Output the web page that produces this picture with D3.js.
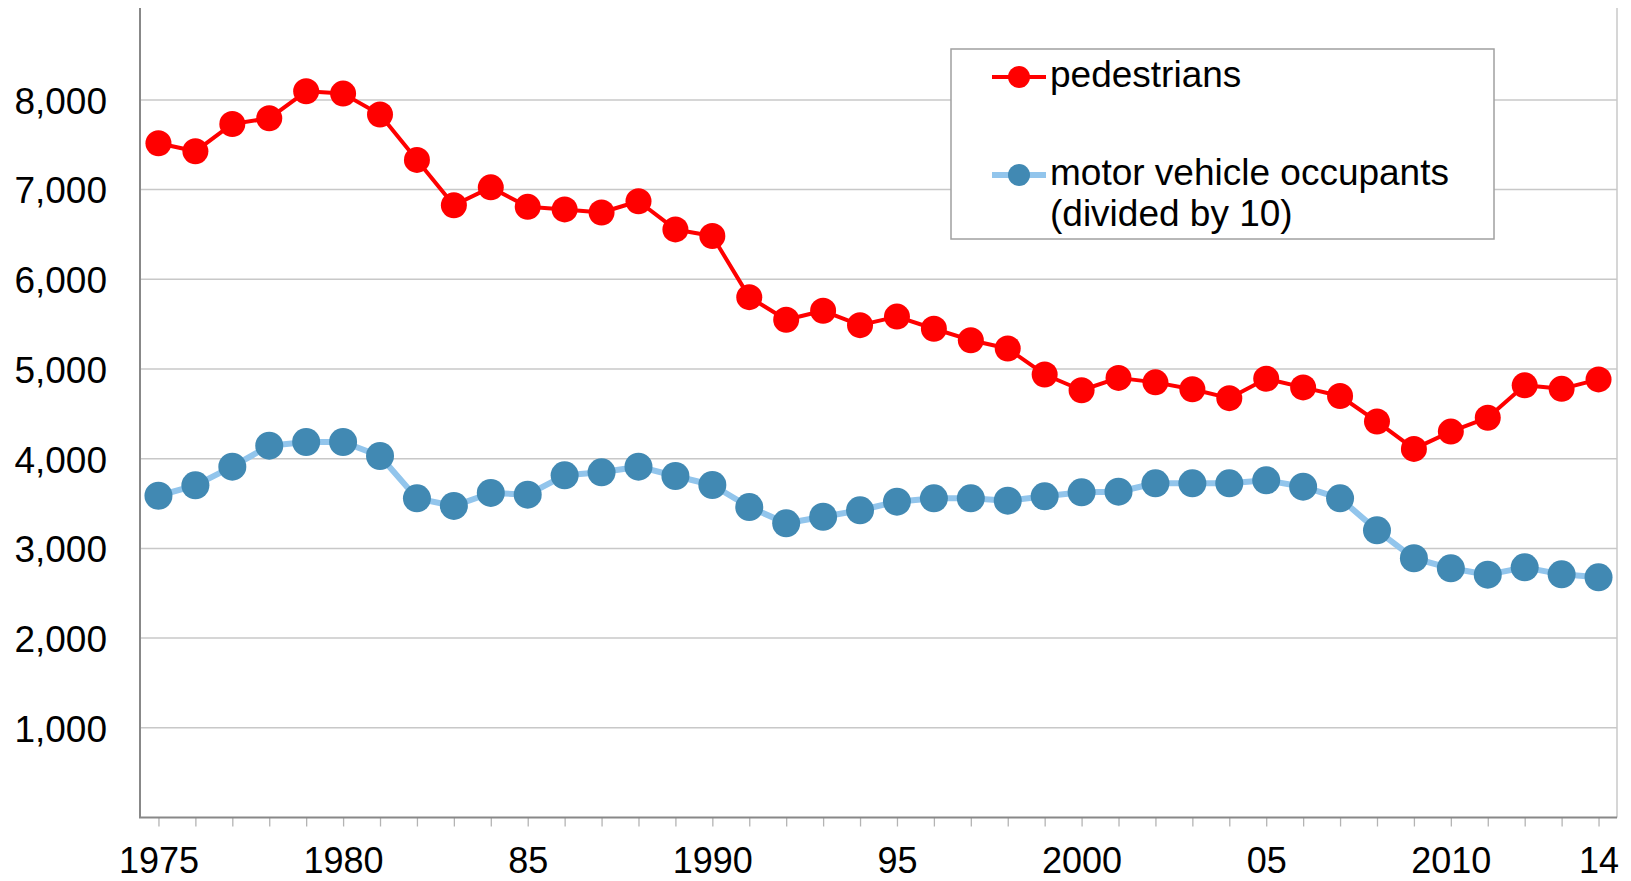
<!DOCTYPE html>
<html>
<head>
<meta charset="utf-8">
<script src="https://cdn.jsdelivr.net/npm/d3@7"></script>
<style>
  body { margin: 0; background: #fff; }
  svg { display: block; font-family: "Liberation Sans", Arial, sans-serif; }
</style>
</head>
<body>
<div id="chart"></div>
<script>
const years = [1975, 1976, 1977, 1978, 1979, 1980, 1981, 1982, 1983, 1984,
  1985, 1986, 1987, 1988, 1989, 1990, 1991, 1992, 1993, 1994,
  1995, 1996, 1997, 1998, 1999, 2000, 2001, 2002, 2003, 2004,
  2005, 2006, 2007, 2008, 2009, 2010, 2011, 2012, 2013, 2014];

const pedestrians = [7516, 7427, 7732, 7795, 8096, 8070, 7837, 7331, 6826, 7025,
  6808, 6779, 6745, 6870, 6556, 6482, 5801, 5549, 5649, 5489,
  5584, 5449, 5321, 5228, 4939, 4763, 4901, 4851, 4774, 4675,
  4892, 4795, 4699, 4414, 4109, 4302, 4457, 4818, 4779, 4884];

// motor vehicle occupants, divided by 10
const occupants = [3587, 3703, 3911, 4145, 4186, 4186, 4030, 3558, 3473, 3618,
  3599, 3815, 3848, 3911, 3807, 3707, 3461, 3280, 3353, 3425,
  3521, 3558, 3558, 3532, 3581, 3625, 3632, 3726, 3726, 3726,
  3759, 3688, 3558, 3202, 2890, 2778, 2707, 2789, 2711, 2678];

const xLabelYears = [1975, 1980, 1985, 1990, 1995, 2000, 2005, 2010, 2014];
const xLabelText = ["1975", "1980", "85", "1990", "95", "2000", "05", "2010", "14"];
const yTicks = [1000, 2000, 3000, 4000, 5000, 6000, 7000, 8000];

const seriesNames = ["pedestrians", "motor vehicle occupants", "(divided by 10)"];

function drawChart() {
  const width = 1631;
  const height = 881;
  const left = 140, right = 1617, top = 8, bottom = 817.5;

  let x = d3.scalePoint().domain(years).range([left, right]).padding(0.5);
  let y = d3.scaleLinear().domain([0, 9000]).range([bottom, 10.2]);

  let svg = d3.select("#chart")
    .append("svg")
    .attr("width", width)
    .attr("height", height);

  // gridlines
  svg.append("g")
    .selectAll("line")
    .data(yTicks)
    .enter()
    .append("line")
    .attr("x1", left)
    .attr("x2", right)
    .attr("y1", d => y(d))
    .attr("y2", d => y(d))
    .attr("stroke", "#c8c8c8")
    .attr("stroke-width", 1.5);

  // right border of plot area
  svg.append("line")
    .attr("x1", right).attr("x2", right)
    .attr("y1", top).attr("y2", bottom)
    .attr("stroke", "#c8c8c8")
    .attr("stroke-width", 1.5);

  let xAxis = d3.axisBottom(x)
    .tickSize(9)
    .tickPadding(21)
    .tickFormat(d => {
      let i = xLabelYears.indexOf(d);
      return i >= 0 ? xLabelText[i] : "";
    });

  let gx = svg.append("g")
    .attr("transform", "translate(0," + bottom + ")")
    .call(xAxis);
  gx.select(".domain").remove();
  gx.selectAll(".tick line").attr("stroke", "#b4b4b4").attr("stroke-width", 1.3);
  gx.selectAll(".tick text")
    .attr("fill", "#000")
    .style("font-size", "36px");

  let yAxis = d3.axisLeft(y)
    .tickValues(yTicks)
    .tickSize(0)
    .tickPadding(33)
    .tickFormat(d3.format(","));

  let gy = svg.append("g")
    .attr("transform", "translate(" + left + ",0)")
    .call(yAxis);
  gy.select(".domain").remove();
  gy.selectAll(".tick text")
    .attr("fill", "#000")
    .attr("dy", "0.36em")
    .style("font-size", "37px");

  // axis lines
  svg.append("line")
    .attr("x1", left).attr("x2", left)
    .attr("y1", top).attr("y2", bottom)
    .attr("stroke", "#888")
    .attr("stroke-width", 2);
  svg.append("line")
    .attr("x1", left - 1).attr("x2", right)
    .attr("y1", bottom).attr("y2", bottom)
    .attr("stroke", "#888")
    .attr("stroke-width", 2);

  let line = d3.line()
    .x((d, i) => x(years[i]))
    .y(d => y(d));

  // occupants series
  svg.append("path")
    .datum(occupants)
    .attr("d", line)
    .attr("fill", "none")
    .attr("stroke", "#92c5ec")
    .attr("stroke-width", 6)
    .attr("stroke-linejoin", "round");

  svg.append("g")
    .selectAll("circle")
    .data(occupants)
    .enter()
    .append("circle")
    .attr("cx", (d, i) => x(years[i]))
    .attr("cy", d => y(d))
    .attr("r", 14)
    .attr("fill", "#4189b3");

  // pedestrians series
  svg.append("path")
    .datum(pedestrians)
    .attr("d", line)
    .attr("fill", "none")
    .attr("stroke", "#ff0000")
    .attr("stroke-width", 4)
    .attr("stroke-linejoin", "round");

  svg.append("g")
    .selectAll("circle")
    .data(pedestrians)
    .enter()
    .append("circle")
    .attr("cx", (d, i) => x(years[i]))
    .attr("cy", d => y(d))
    .attr("r", 13)
    .attr("fill", "#ff0000");

  // legend
  let legend = svg.append("g");
  legend.append("rect")
    .attr("x", 951)
    .attr("y", 49)
    .attr("width", 543)
    .attr("height", 190)
    .attr("fill", "#fff")
    .attr("stroke", "#a0a0a0")
    .attr("stroke-width", 1.5);

  legend.append("line")
    .attr("x1", 992).attr("x2", 1046)
    .attr("y1", 77).attr("y2", 77)
    .attr("stroke", "#ff0000")
    .attr("stroke-width", 4);
  legend.append("circle")
    .attr("cx", 1019).attr("cy", 77).attr("r", 11)
    .attr("fill", "#ff0000");
  legend.append("text")
    .attr("x", 1050).attr("y", 87)
    .style("font-size", "37px")
    .text(seriesNames[0]);

  legend.append("line")
    .attr("x1", 992).attr("x2", 1046)
    .attr("y1", 175).attr("y2", 175)
    .attr("stroke", "#92c5ec")
    .attr("stroke-width", 6);
  legend.append("circle")
    .attr("cx", 1019).attr("cy", 175).attr("r", 11)
    .attr("fill", "#4189b3");
  legend.append("text")
    .attr("x", 1050).attr("y", 185)
    .style("font-size", "37px")
    .text(seriesNames[1]);
  legend.append("text")
    .attr("x", 1050).attr("y", 226)
    .style("font-size", "37px")
    .text(seriesNames[2]);
}

drawChart();
</script>
</body>
</html>
